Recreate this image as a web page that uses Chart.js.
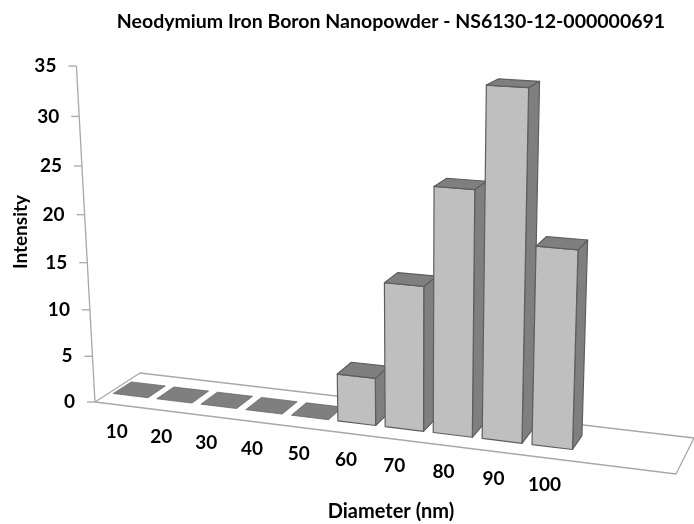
<!DOCTYPE html>
<html>
<head>
<meta charset="utf-8">
<style>
  html, body { margin: 0; padding: 0; background: #fff; }
  canvas { display: block; }
</style>
<script src="https://cdn.jsdelivr.net/npm/chart.js@4/dist/chart.umd.min.js"></script>
</head>
<body>
<canvas id="my-chart" width="694" height="524"></canvas>
<script>
    const diameters = ["10", "20", "30", "40", "50", "60", "70", "80", "90", "100"];
    const intensity = [0, 0, 0, 0, 0, 5, 15, 25, 35, 20];
    const intensityMax = 35;
    const intensityStep = 5;

    const fontFamily = "Lato, 'Open Sans', sans-serif";

    // the floor of the 3D box on screen: front left, front right, back right, back left
    const floor = [[95, 402], [676, 474], [694, 438], [140, 373]];
    // the top of the value axis, as a change of the projective matrix
    const riseX = -22.8, riseY = -339.6, riseW = -0.055;
    const floorBands = 12; // floor has room for 12 bands, only 10 are used
    const depthFront = 0.3, depthBack = 0.7;

    // unit square -> floor quad
    function floorMatrix(q) {
        const dx1 = q[1][0] - q[2][0], dx2 = q[3][0] - q[2][0];
        const dy1 = q[1][1] - q[2][1], dy2 = q[3][1] - q[2][1];
        const sx = q[0][0] - q[1][0] + q[2][0] - q[3][0];
        const sy = q[0][1] - q[1][1] + q[2][1] - q[3][1];
        const det = dx1 * dy2 - dx2 * dy1;
        const g = (sx * dy2 - dx2 * sy) / det;
        const h = (dx1 * sy - sx * dy1) / det;
        return {
            a: q[1][0] - q[0][0] + g * q[1][0], b: q[3][0] - q[0][0] + h * q[3][0], c: q[0][0],
            d: q[1][1] - q[0][1] + g * q[1][1], e: q[3][1] - q[0][1] + h * q[3][1], f: q[0][1],
            g: g, h: h,
        };
    }
    const m = floorMatrix(floor);

    // u along the categories, d into the depth, v up the value axis (all 0..1)
    function project(u, d, v) {
        const w = m.g * u + m.h * d + 1 + riseW * v;
        return [
            (m.a * u + m.b * d + m.c + riseX * v) / w,
            (m.d * u + m.e * d + m.f + riseY * v) / w,
        ];
    }

    function polygon(ctx, pts, fill, stroke, width) {
        ctx.beginPath();
        pts.forEach((p, i) => (i ? ctx.lineTo(p[0], p[1]) : ctx.moveTo(p[0], p[1])));
        ctx.closePath();
        if (fill) {
            ctx.fillStyle = fill;
            ctx.fill();
        }
        ctx.strokeStyle = stroke;
        ctx.lineWidth = width;
        ctx.stroke();
    }

    const box3d = {
        id: "box3d",
        // floor, value axis and tick labels
        beforeDatasetsDraw(chart) {
            const ctx = chart.ctx;
            const area = chart.chartArea;
            const xScale = chart.scales.x;
            const yScale = chart.scales.y;
            const spanU = (xScale.width * floorBands) / diameters.length;
            ctx.save();
            ctx.lineJoin = "round";
            polygon(ctx, floor, null, "#a8a8a8", 1.3);

            const axisTop = project(0, 0, 1);
            ctx.beginPath();
            ctx.moveTo(floor[0][0], floor[0][1]);
            ctx.lineTo(axisTop[0], axisTop[1]);
            ctx.strokeStyle = "#a8a8a8";
            ctx.lineWidth = 1.3;
            ctx.stroke();

            ctx.font = "bold 19px " + fontFamily;
            ctx.fillStyle = "#000";
            ctx.textAlign = "right";
            ctx.textBaseline = "middle";
            yScale.ticks.forEach((t) => {
                const v = (area.bottom - yScale.getPixelForValue(t.value)) / area.height;
                const p = project(0, 0, v);
                ctx.beginPath();
                ctx.moveTo(p[0], p[1]);
                ctx.lineTo(p[0] - 8, p[1]);
                ctx.stroke();
                ctx.fillText(t.label, p[0] - 20, p[1]);
            });

            ctx.textAlign = "center";
            diameters.forEach((label, i) => {
                const u = (xScale.getPixelForValue(i) - area.left) / spanU;
                const p = project(u, 0, 0);
                ctx.fillText(label, p[0], p[1] + 27);
            });
            ctx.restore();
        },
        // bars come from the bar elements, only redrawn as boxes
        beforeDatasetDraw(chart, args) {
            const ctx = chart.ctx;
            const area = chart.chartArea;
            const spanU = (chart.scales.x.width * floorBands) / diameters.length;
            const dataset = chart.data.datasets[args.index];
            ctx.save();
            ctx.lineJoin = "round";
            args.meta.data.forEach((bar, i) => {
                const u0 = (bar.x - bar.width / 2 - area.left) / spanU;
                const u1 = (bar.x + bar.width / 2 - area.left) / spanU;
                const v = (area.bottom - bar.y) / area.height;
                const top = [
                    project(u0, depthFront, v), project(u1, depthFront, v),
                    project(u1, depthBack, v), project(u0, depthBack, v),
                ];
                if (intensity[i] > 0) {
                    const front = [
                        project(u0, depthFront, 0), project(u1, depthFront, 0),
                        project(u1, depthFront, v), project(u0, depthFront, v),
                    ];
                    const side = [
                        project(u1, depthFront, 0), project(u1, depthBack, 0),
                        project(u1, depthBack, v), project(u1, depthFront, v),
                    ];
                    polygon(ctx, side, dataset.sideColor, dataset.borderColor, 1.2);
                    polygon(ctx, front, dataset.backgroundColor, dataset.borderColor, 1.2);
                }
                polygon(ctx, top, dataset.sideColor, dataset.borderColor, intensity[i] > 0 ? 1.2 : 0.7);
            });
            ctx.restore();
            return false;
        },
    };

    const config = {
        type: "bar",
        data: {
            labels: diameters,
            datasets: [
                {
                    label: "Intensity",
                    data: intensity,
                    backgroundColor: "#bfbfbf",
                    sideColor: "#7f7f7f",
                    borderColor: "#5e5e5e",
                    categoryPercentage: 1,
                    barPercentage: 0.8,
                },
            ],
        },
        options: {
            responsive: false,
            animation: false,
            events: [],
            layout: { padding: 0 },
            plugins: {
                legend: { display: false },
                tooltip: { enabled: false },
                title: {
                    display: true,
                    fullSize: false,
                    text: "Neodymium Iron Boron Nanopowder - NS6130-12-000000691",
                    color: "#000",
                    font: { family: fontFamily, size: 19.5, weight: "bold" },
                    padding: { top: 10, bottom: 16.6 },
                },
            },
            scales: {
                x: {
                    grid: { display: false },
                    border: { display: false },
                    ticks: { display: false },
                    title: {
                        display: true,
                        text: "Diameter (nm)",
                        color: "#000",
                        font: { family: fontFamily, size: 20, weight: "bold" },
                        padding: { top: 4, bottom: 0 },
                    },
                    afterFit(scale) {
                        scale.height = 110;
                    },
                },
                y: {
                    min: 0,
                    max: intensityMax,
                    grid: { display: false },
                    border: { display: false },
                    ticks: { display: false, stepSize: intensityStep },
                    title: {
                        display: true,
                        text: "Intensity",
                        color: "#000",
                        font: { family: fontFamily, size: 19, weight: "bold" },
                        padding: { top: 9, bottom: 4 },
                    },
                    afterFit(scale) {
                        scale.width = 88;
                    },
                },
            },
        },
        plugins: [box3d],
    };

    new Chart(document.getElementById("my-chart"), config);
</script>
</body>
</html>
